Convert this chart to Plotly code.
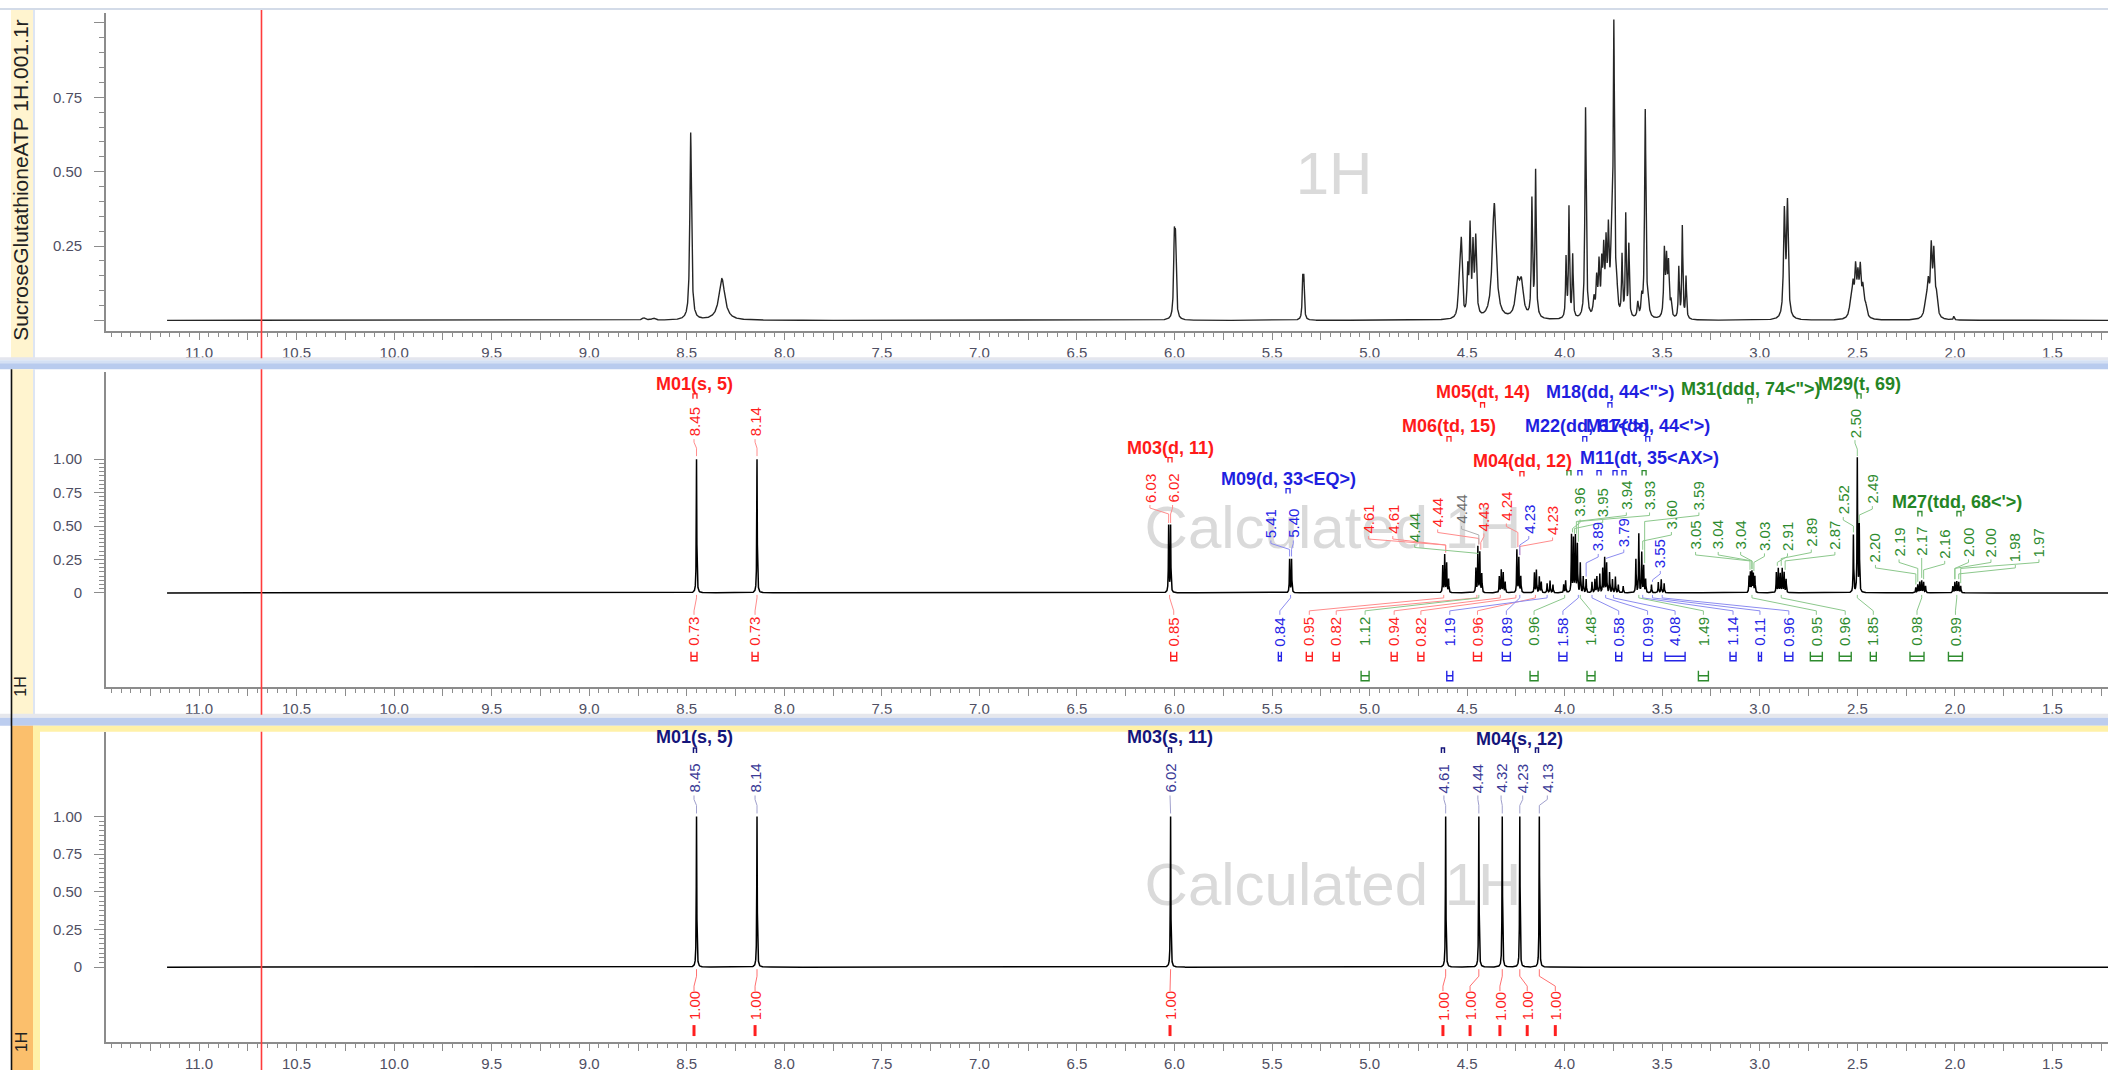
import numpy as np
import plotly.graph_objects as go

W, H = 2108, 1072
FONT = "Liberation Sans, Arial, Helvetica, sans-serif"

# ---------------------------------------------------------------------------
# Measured 1H spectrum, as a line list: shift (ppm), height, half width (ppm)
# ---------------------------------------------------------------------------
exp_shift = [8.72, 8.67, 8.48, 8.32,
             6.001, 5.995, 5.343, 5.337,
             4.540, 4.530, 4.497, 4.485, 4.470, 4.456,
             4.361, 4.242, 4.222, 4.168, 4.149,
             3.993, 3.978, 3.959, 3.893,
             3.850, 3.836, 3.824, 3.810, 3.800, 3.788, 3.776, 3.760, 3.748, 3.734,
             3.706, 3.687, 3.671,
             3.625, 3.605, 3.587, 3.572,
             3.489, 3.478, 3.468, 3.455,
             3.415, 3.397, 3.378,
             2.874, 2.858,
             2.535, 2.522, 2.509, 2.497, 2.485, 2.472, 2.458,
             2.148, 2.136, 2.121, 2.108, 2.095, 2.005]
exp_height = [0.008, 0.007, 0.63, 0.14,
              0.24, 0.23, 0.13, 0.13,
              0.12, 0.24, 0.15, 0.29, 0.22, 0.26,
              0.39, 0.11, 0.11, 0.39, 0.49,
              0.20, 0.37, 0.21, 0.71,
              0.06, 0.12, 0.17, 0.16, 0.20, 0.22, 0.26, 0.20, 0.95, 0.10,
              0.20, 0.34, 0.24,
              0.05, 0.06, 0.70, 0.06,
              0.22, 0.18, 0.17, 0.05,
              0.17, 0.31, 0.14,
              0.35, 0.38,
              0.04, 0.10, 0.15, 0.12, 0.15, 0.09, 0.04,
              0.06, 0.10, 0.22, 0.20, 0.07, 0.012]
exp_hwhm = [0.010, 0.010, 0.005, 0.018,
            0.004, 0.004, 0.003, 0.003,
            0.006, 0.005, 0.004, 0.004, 0.004, 0.005,
            0.012, 0.012, 0.012, 0.0035, 0.0035,
            0.003, 0.003, 0.003, 0.004,
            0.005, 0.004, 0.004, 0.004, 0.004, 0.004, 0.004, 0.006, 0.004, 0.004,
            0.003, 0.003, 0.003,
            0.004, 0.004, 0.004, 0.004,
            0.004, 0.004, 0.004, 0.004,
            0.003, 0.003, 0.003,
            0.005, 0.005,
            0.008, 0.006, 0.005, 0.005, 0.005, 0.006, 0.008,
            0.008, 0.006, 0.005, 0.005, 0.007, 0.003]

# ---------------------------------------------------------------------------
# Calculated 1H spectrum (multiplets): line shift (ppm) and height
# ---------------------------------------------------------------------------
calc_shift = [8.45, 8.14, 6.03, 6.02, 5.41, 5.40,
              4.625, 4.615, 4.605, 4.595,
              4.455, 4.445, 4.435, 4.425,
              4.335, 4.325, 4.315, 4.305,
              4.245, 4.235, 4.225,
              4.155, 4.145, 4.130, 4.120,
              4.090, 4.075, 4.060,
              4.005, 3.995,
              3.965, 3.955, 3.945, 3.935, 3.920, 3.905, 3.890,
              3.860, 3.845, 3.835, 3.820, 3.805, 3.795, 3.785, 3.770, 3.755, 3.740, 3.725, 3.700,
              3.635, 3.620, 3.605, 3.595, 3.585, 3.555,
              3.520, 3.505, 3.490,
              3.055, 3.048, 3.040, 3.033, 3.025,
              2.915, 2.905, 2.895, 2.885, 2.875, 2.865,
              2.52, 2.50, 2.49,
              2.20, 2.19, 2.18, 2.17, 2.16, 2.15,
              2.01, 2.00, 1.99, 1.98, 1.97]
calc_height = [1.00, 1.00, 0.50, 0.50, 0.25, 0.25,
               0.20, 0.28, 0.22, 0.10,
               0.18, 0.34, 0.30, 0.14,
               0.12, 0.17, 0.15, 0.08,
               0.32, 0.26, 0.12,
               0.15, 0.17, 0.12, 0.08,
               0.07, 0.09, 0.06,
               0.06, 0.09,
               0.43, 0.40, 0.42, 0.36, 0.22, 0.12, 0.10,
               0.08, 0.10, 0.12, 0.14, 0.18, 0.26, 0.22, 0.15, 0.10, 0.12, 0.06, 0.05,
               0.25, 0.44, 0.30, 0.20, 0.10, 0.06,
               0.08, 0.10, 0.07,
               0.12, 0.15, 0.155, 0.14, 0.12,
               0.15, 0.18, 0.14, 0.18, 0.15, 0.10,
               0.43, 1.00, 0.50,
               0.04, 0.06, 0.08, 0.09, 0.08, 0.05,
               0.05, 0.08, 0.085, 0.08, 0.05]
CALC_HWHM = 0.0015

# Calculated singlets (lower trace)
sing_shift = [8.45, 8.14, 6.02, 4.61, 4.44, 4.32, 4.23, 4.13]
sing_height = [1.00, 1.00, 1.00, 1.00, 1.00, 1.00, 1.00, 1.00]

# Peak-pick labels on the multiplet trace (text, colour class)
mid_peak_text = ["8.45", "8.14", "6.03", "6.02", "5.41", "5.40",
                 "4.61", "4.61", "4.44", "4.44", "4.44", "4.43", "4.24", "4.23", "4.23",
                 "3.96", "3.89", "3.95", "3.79", "3.94", "3.93", "3.55", "3.60",
                 "3.05", "3.59", "3.04", "3.04", "3.03", "2.91", "2.89", "2.87",
                 "2.52", "2.50", "2.49", "2.20", "2.19", "2.17", "2.16",
                 "2.00", "2.00", "1.98", "1.97"]
mid_peak_cls = ["r", "r", "r", "r", "b", "b",
                "r", "r", "g", "r", "k", "r", "r", "b", "r",
                "g", "b", "g", "b", "g", "g", "b", "g",
                "g", "g", "g", "g", "g", "g", "g", "g",
                "g", "g", "g", "g", "g", "g", "g",
                "g", "g", "g", "g"]

# Integrals on the multiplet trace: value, colour class, shift of the region
mid_int_text = ["0.73", "0.73", "0.85", "0.84", "0.95", "0.82", "1.12", "0.94", "0.82",
                "1.19", "0.96", "0.89", "0.96", "1.58", "1.48", "0.58", "0.99", "4.08",
                "1.49", "1.14", "0.11", "0.96", "0.95", "0.96", "1.85", "0.98", "0.99"]
mid_int_cls = ["r", "r", "r", "b", "r", "r", "g", "r", "r",
               "b", "r", "b", "g", "b", "g", "b", "b", "b",
               "g", "b", "b", "b", "g", "g", "g", "g", "g"]
mid_int_shift = [8.45, 8.14, 6.025, 5.405, 4.62, 4.45, 4.44, 4.33, 4.25,
                 4.09, 4.15, 4.23, 4.00, 3.93, 3.92, 3.86, 3.79, 3.75,
                 3.62, 3.60, 3.55, 3.50, 3.04, 2.89, 2.50, 2.17, 1.99]

# Multiplet captions on the multiplet trace
mid_mult_text = ["M01(s, 5)", "M03(d, 11)", "M09(d, 33<EQ>)", "M06(td, 15)", "M05(dt, 14)",
                 "M18(dd, 44<\">)", "M31(ddd, 74<\">)", "M29(t, 69)", "M22(dd, 61<'>)",
                 "M17(dd, 44<'>)", "M04(dd, 12)", "M11(dt, 35<AX>)", "M27(tdd, 68<'>)"]
mid_mult_cls = ["r", "r", "b", "r", "r", "b", "g", "g", "b", "b", "r", "b", "g"]

# Singlet trace labels
bot_peak_text = ["8.45", "8.14", "6.02", "4.61", "4.44", "4.32", "4.23", "4.13"]
bot_int_text = ["1.00", "1.00", "1.00", "1.00", "1.00", "1.00", "1.00", "1.00"]
bot_mult_text = ["M01(s, 5)", "M03(s, 11)", "M04(s, 12)"]

# Cursor position (ppm)
cursor_ppm = 10.68

# ---------------------------------------------------------------------------
# Label placement (ppm, intensity in the panel's own units)
# ---------------------------------------------------------------------------
mid_peak_pos = [(8.463, 1.276), (8.150, 1.276), (6.126, 0.784), (6.010, 0.784),
                (5.506, 0.519), (5.391, 0.519),
                (5.006, 0.552), (4.881, 0.552), (4.769, 0.489), (4.651, 0.601),
                (4.529, 0.627), (4.414, 0.571), (4.299, 0.646), (4.184, 0.552),
                (4.062, 0.541),
                (3.921, 0.675), (3.828, 0.418), (3.805, 0.675), (3.697, 0.451),
                (3.684, 0.728), (3.565, 0.728), (3.510, 0.291), (3.453, 0.582),
                (3.329, 0.433), (3.312, 0.728), (3.213, 0.433), (3.098, 0.433),
                (2.976, 0.422), (2.858, 0.422), (2.736, 0.451), (2.615, 0.433),
                (2.572, 0.694), (2.512, 1.269), (2.423, 0.776), (2.407, 0.336),
                (2.286, 0.377), (2.170, 0.388), (2.052, 0.366), (1.930, 0.377),
                (1.815, 0.377), (1.690, 0.336), (1.569, 0.377)]
mid_int_x = [8.463, 8.150, 6.004, 5.460, 5.309, 5.171, 5.023, 4.874, 4.737,
             4.589, 4.447, 4.299, 4.157, 4.009, 3.865, 3.723, 3.575, 3.434,
             3.289, 3.137, 2.999, 2.851, 2.710, 2.562, 2.418, 2.194, 1.997]
mid_int_row = [1, 1, 1, 1, 1, 1, 2, 1, 1,
               2, 1, 1, 2, 1, 2, 1, 1, 1,
               2, 1, 1, 1, 1, 1, 1, 1, 1]
mid_int_w = [6, 6, 6, 3, 6, 6, 8, 6, 6,
             6, 8, 8, 8, 8, 8, 6, 8, 20,
             10, 6, 3, 8, 12, 12, 6, 14, 14]
mid_mult_pos = [(8.458, 1.560), (6.023, 1.082), (5.418, 0.851), (4.592, 1.246),
                (4.421, 1.500), (3.766, 1.500), (3.045, 1.522), (2.489, 1.560),
                (3.887, 1.246), (3.575, 1.246), (4.216, 0.985), (3.565, 1.007),
                (1.990, 0.679)]
# small multiplet markers under the captions (ppm, intensity, colour class)
mid_marks = [(8.458, 1.470, "r"), (6.023, 0.993, "r"), (5.418, 0.761, "b"),
             (4.593, 1.149, "r"), (4.421, 1.403, "r"), (3.768, 1.403, "b"),
             (3.050, 1.433, "g"), (2.491, 1.470, "g"), (3.897, 1.149, "b"),
             (3.574, 1.149, "b"), (4.219, 0.888, "r"),
             (3.978, 0.896, "g"), (3.922, 0.896, "b"), (3.824, 0.896, "b"),
             (3.742, 0.896, "b"), (3.696, 0.896, "b"), (3.593, 0.896, "g"),
             (2.179, 0.590, "g"), (1.979, 0.590, "g")]

bot_peak_x = [8.463, 8.150, 6.023, 4.619, 4.445, 4.326, 4.215, 4.089]
bot_peak_v = 1.252
bot_int_x = [8.463, 8.150, 6.023, 4.624, 4.485, 4.332, 4.192, 4.048]
bot_int_v = -0.258
bot_mult_pos = [(8.458, 1.530), (6.023, 1.530), (4.234, 1.517)]
bot_marks = [8.458, 6.023, 4.624, 4.247, 4.142]

# ---------------------------------------------------------------------------
# Geometry
# ---------------------------------------------------------------------------
PPM_LEFT, PPM_RIGHT = 11.477, 1.215
PX_PER_PPM = 195.1
X_DOMAIN = [106 / W, 1.0]
PANEL = {
    "top": dict(top=13, bottom=332, zero=321, unit=298.0),
    "mid": dict(top=373, bottom=688, zero=594, unit=134.0),
    "bot": dict(top=733, bottom=1044, zero=969, unit=151.0),
}


def yrange(p):
    return [(p["zero"] - p["bottom"]) / p["unit"], (p["zero"] - p["top"]) / p["unit"]]


def ydomain(p):
    return [1 - p["bottom"] / H, 1 - p["top"] / H]


def fx(px):
    return px / W


def fy(py):
    return 1 - py / H


TEXT_COL = {"r": "#ff1f1f", "b": "#2424e6", "g": "#2e8b2e", "k": "#6e6e6e", "n": "#3a3a96"}
LINE_COL = {"r": "#ff8c8c", "b": "#8c8cf0", "g": "#8cc88c", "k": "#b0b0b0", "n": "#a0a0cc"}
MULT_COL = {"r": "#ff1a1a", "b": "#1f1fe0", "g": "#258525", "n": "#15157a"}
AXC = "#8c8c8c"
TICKFONT = dict(family=FONT, size=15, color="#4f4f63")


def esc(t):
    return t.replace("<", "&lt;").replace(">", "&gt;")


# ---------------------------------------------------------------------------
# Spectrum curves (Lorentzian line shapes from the line lists)
# ---------------------------------------------------------------------------
def shift_grid(shifts, half, step):
    parts = [np.arange(1.20, 11.165, 0.002), np.array(shifts, dtype=float)]
    for s in shifts:
        parts.append(np.arange(s - half, s + half, step))
    x = np.unique(np.round(np.concatenate(parts), 5))
    x = x[(x >= 1.20) & (x <= 11.164)]
    return x[::-1]


def lorentz(x, shifts, heights, widths):
    y = np.zeros_like(x)
    for s, h, w in zip(shifts, heights, widths):
        y += h * w * w / ((x - s) ** 2 + w * w)
    return y


x_exp = shift_grid(exp_shift, 0.06, 0.0005)
y_exp = lorentz(x_exp, exp_shift, exp_height, exp_hwhm)
x_calc = shift_grid(calc_shift, 0.012, 0.0002)
y_calc = lorentz(x_calc, calc_shift, calc_height, [CALC_HWHM] * len(calc_shift))
x_sing = shift_grid(sing_shift, 0.012, 0.0002)
y_sing = lorentz(x_sing, sing_shift, sing_height, [CALC_HWHM] * len(sing_shift))

fig = go.Figure()
fig.add_trace(go.Scatter(x=np.round(x_exp, 5), y=np.round(y_exp, 5), mode="lines",
                         line=dict(color="#262626", width=1.4), xaxis="x", yaxis="y",
                         hoverinfo="skip"))
fig.add_trace(go.Scatter(x=np.round(x_calc, 5), y=np.round(y_calc, 5), mode="lines",
                         line=dict(color="#000000", width=1.5), xaxis="x2", yaxis="y2",
                         hoverinfo="skip"))
fig.add_trace(go.Scatter(x=np.round(x_sing, 5), y=np.round(y_sing, 5), mode="lines",
                         line=dict(color="#000000", width=1.5), xaxis="x3", yaxis="y3",
                         hoverinfo="skip"))


def line_top(target, shifts, heights, tol=0.007):
    hs = [h for s, h in zip(shifts, heights) if abs(s - target) <= tol]
    return max(hs) if hs else 0.0


def add_polylines(segments, color, xa, ya, width=1.0):
    xs, ys = [], []
    for sx, sy in segments:
        xs += list(sx) + [None]
        ys += list(sy) + [None]
    fig.add_trace(go.Scatter(x=xs, y=ys, mode="lines", line=dict(color=color, width=width),
                             xaxis=xa, yaxis=ya, hoverinfo="skip"))


annotations = []


def vlabel(text, x, y, color, xa, ya, size=15):
    annotations.append(dict(text=text, x=x, y=y, xref=xa, yref=ya, showarrow=False,
                            textangle=-90, xanchor="center", yanchor="middle",
                            font=dict(family=FONT, size=size, color=color)))


def hlabel(text, x, y, color, xa, ya, size=18, bold=True):
    annotations.append(dict(text=("<b>%s</b>" % esc(text)) if bold else esc(text),
                            x=x, y=y, xref=xa, yref=ya, showarrow=False,
                            xanchor="center", yanchor="middle",
                            font=dict(family=FONT, size=size, color=color)))


# ---------------------------------------------------------------------------
# Multiplet trace annotations
# ---------------------------------------------------------------------------
pm = 1.0 / PANEL["mid"]["unit"]          # one pixel in intensity units
dpx = 1.0 / PX_PER_PPM                    # one pixel in ppm
seg = {c: [] for c in TEXT_COL}
for (t, c, (lx, lv)) in zip(mid_peak_text, mid_peak_cls, mid_peak_pos):
    vlabel(t, lx, lv, TEXT_COL[c], "x2", "y2")
    target = float(t)
    vb = lv - 15 * pm
    k1 = vb - 5 * pm
    k2 = vb - 11 * pm
    top = line_top(target, calc_shift, calc_height) + 3 * pm
    end = top if top < k2 else k2
    seg[c].append(([lx, lx, target, target], [vb - 2 * pm, k1, k2, end]))

int_seg = {c: [] for c in TEXT_COL}
brk_seg = {c: [] for c in TEXT_COL}
int_v = (PANEL["mid"]["zero"] - 633) / PANEL["mid"]["unit"]
for t, c, s, lx, row, w in zip(mid_int_text, mid_int_cls, mid_int_shift,
                               mid_int_x, mid_int_row, mid_int_w):
    vlabel(t, lx, int_v, TEXT_COL[c], "x2", "y2")
    int_seg[c].append(([s, s, lx, lx], [-2 * pm, -5 * pm, -18 * pm, -22 * pm]))
    y_top, y_bot = (653, 662) if row == 1 else (672, 682)
    vt = (PANEL["mid"]["zero"] - y_top) * pm
    vbt = (PANEL["mid"]["zero"] - y_bot) * pm
    hw = w / 2.0 * dpx
    brk_seg[c].append(([lx - hw, lx - hw, lx + hw, lx + hw], [vt, vbt, vbt, vt]))
    brk_seg[c].append(([lx - hw, lx + hw], [(vt + vbt) / 2, (vt + vbt) / 2]))

for c in TEXT_COL:
    if seg[c]:
        add_polylines(seg[c], LINE_COL[c], "x2", "y2")
    if int_seg[c]:
        add_polylines(int_seg[c], LINE_COL[c], "x2", "y2")
    if brk_seg[c]:
        add_polylines(brk_seg[c], TEXT_COL[c], "x2", "y2", width=1.4)

mark_seg = {c: [] for c in TEXT_COL}
for (mx, mv, c) in mid_marks:
    mark_seg[c].append(([mx - 2 * dpx, mx - 2 * dpx, mx + 2 * dpx, mx + 2 * dpx],
                        [mv - 2.5 * pm, mv + 2.5 * pm, mv + 2.5 * pm, mv - 2.5 * pm]))
for c in mark_seg:
    if mark_seg[c]:
        add_polylines(mark_seg[c], TEXT_COL[c], "x2", "y2", width=1.3)

for t, c, (mx, mv) in zip(mid_mult_text, mid_mult_cls, mid_mult_pos):
    hlabel(t, mx, mv, MULT_COL[c], "x2", "y2")

# ---------------------------------------------------------------------------
# Singlet trace annotations
# ---------------------------------------------------------------------------
pb = 1.0 / PANEL["bot"]["unit"]
bseg, bint, bbar = [], [], []
for t, lx, s in zip(bot_peak_text, bot_peak_x, sing_shift):
    vlabel(t, lx, bot_peak_v, TEXT_COL["n"], "x3", "y3")
    vb = bot_peak_v - 15 * pb
    h = line_top(s, sing_shift, sing_height)
    bseg.append(([lx, lx, s, s], [vb - 2 * pb, vb - 6 * pb, vb - 12 * pb, h + 3 * pb]))
for t, lx, s in zip(bot_int_text, bot_int_x, sing_shift):
    vlabel(t, lx, bot_int_v, "#ff1f1f", "x3", "y3")
    bint.append(([s, s, lx, lx], [-2 * pb, -9 * pb, -19 * pb, -24 * pb]))
    bbar.append(([lx, lx], [(969 - 1027) * pb, (969 - 1038) * pb]))
add_polylines(bseg, LINE_COL["n"], "x3", "y3")
add_polylines(bint, "#ff7070", "x3", "y3")
add_polylines(bbar, "#ff1f1f", "x3", "y3", width=3)
bmark = []
for mx in bot_marks:
    mv = (969 - 752) * pb
    bmark.append(([mx - 1.5 * dpx, mx - 1.5 * dpx, mx + 1.5 * dpx, mx + 1.5 * dpx],
                  [mv - 2.5 * pb, mv + 2.5 * pb, mv + 2.5 * pb, mv - 2.5 * pb]))
add_polylines(bmark, MULT_COL["n"], "x3", "y3", width=1.5)
for t, (mx, mv) in zip(bot_mult_text, bot_mult_pos):
    hlabel(t, mx, mv, MULT_COL["n"], "x3", "y3")

# ---------------------------------------------------------------------------
# Panel frames, strips and captions
# ---------------------------------------------------------------------------
shapes = []


def rect(x0, y0, x1, y1, color, layer="above"):
    shapes.append(dict(type="rect", xref="paper", yref="paper", x0=fx(x0), x1=fx(x1),
                       y0=fy(y1), y1=fy(y0), fillcolor=color, line=dict(width=0),
                       layer=layer))


rect(0, 8, W, 10, "#d3dbe8")
rect(11, 10, 33, 359, "#fff4cf")
rect(33, 10, 35, 359, "#dde5f3")
rect(0, 358, W, 361, "#e4e6ee")
rect(0, 361, W, 364, "#d4e0f4")
rect(0, 364, W, 370, "#b8cbee")
rect(11, 370, 33, 716, "#fff4cf")
rect(33, 370, 35, 716, "#dde5f3")
rect(0, 715, W, 719, "#e6e7ec")
rect(0, 719, W, 727, "#bccdef")
rect(33, 727, W, 733, "#fff1a8")
rect(33, 727, 40, H, "#fff1a8")
rect(11, 727, 33, H, "#fbbf6c")
shapes.append(dict(type="line", xref="paper", yref="paper", x0=fx(11.5), x1=fx(11.5),
                   y0=fy(370), y1=fy(H), line=dict(color="#111111", width=1.6)))

# cursor line in each panel
for ax, (y0, y1) in zip(["x", "x2", "x3"], [(10, 359), (370, 716), (733, H)]):
    shapes.append(dict(type="line", xref=ax, yref="paper", x0=cursor_ppm, x1=cursor_ppm,
                       y0=fy(y1), y1=fy(y0), line=dict(color="#ff3b3b", width=1.6)))

# faint panel watermarks, kept underneath the traces
for text, cx, cy in [("1H", 1334, 168), ("Calculated 1H", 1333, 522),
                     ("Calculated 1H", 1333, 880)]:
    shapes.append(dict(type="rect", xref="paper", yref="paper",
                       x0=fx(cx - 320), x1=fx(cx + 320), y0=fy(cy + 45), y1=fy(cy - 45),
                       line=dict(width=0), fillcolor="rgba(0,0,0,0)", layer="below",
                       label=dict(text=text, textposition="middle center",
                                  font=dict(family=FONT, size=60, color="#dadada"))))

# vertical captions in the left strips, bottom-aligned
for text, ybot, size in [("SucroseGlutathioneATP 1H.001.1r", 344, 21), ("1H", 700, 16),
                         ("1H", 1056, 16)]:
    annotations.append(dict(text=text, x=fx(21), y=fy(ybot), xref="paper", yref="paper",
                            showarrow=False, textangle=-90, xanchor="center",
                            yanchor="bottom", font=dict(family=FONT, size=size, color="#222222")))

# ---------------------------------------------------------------------------
# Axes
# ---------------------------------------------------------------------------
xt_vals = [round(1.25 + 0.25 * i, 2) for i in range(41)]
xt_text = [("%.1f" % v) if abs(v * 2 - round(v * 2)) < 1e-9 else "" for v in xt_vals]
x_minor = [round(1.25 + 0.05 * i, 2) for i in range(205)]
x_minor = [v for v in x_minor if abs(v * 4 - round(v * 4)) > 1e-9]


def x_axis(anchor):
    return dict(domain=X_DOMAIN, range=[PPM_LEFT, PPM_RIGHT], anchor=anchor,
                showline=True, linecolor=AXC, linewidth=1.6, showgrid=False, zeroline=False,
                tickmode="array", tickvals=xt_vals, ticktext=xt_text,
                ticks="outside", ticklen=7, tickwidth=1.3, tickcolor=AXC, tickfont=TICKFONT,
                minor=dict(tickmode="array", tickvals=x_minor, ticks="outside", ticklen=4,
                           tickwidth=1.1, tickcolor=AXC),
                fixedrange=True)


def y_axis(anchor, panel, labels, step):
    p = PANEL[panel]
    n = int(round(1.0 / step))
    minor = [round(i * step, 5) for i in range(n + 1)]
    minor = [v for v in minor if abs(v * 4 - round(v * 4)) > 1e-9]
    return dict(domain=ydomain(p), range=yrange(p), anchor=anchor,
                showline=True, linecolor=AXC, linewidth=1.6, showgrid=False, zeroline=False,
                tickmode="array", tickvals=[0, 0.25, 0.5, 0.75, 1.0], ticktext=labels,
                ticks="outside", ticklen=10, tickwidth=1.3, tickcolor=AXC, tickfont=TICKFONT,
                ticklabelstandoff=9,
                minor=dict(tickmode="array", tickvals=minor, ticks="outside", ticklen=5,
                           tickwidth=1.1, tickcolor=AXC),
                fixedrange=True)


fig.update_layout(
    width=W, height=H, margin=dict(l=0, r=0, t=0, b=0),
    paper_bgcolor="white", plot_bgcolor="rgba(0,0,0,0)", showlegend=False,
    xaxis=x_axis("y"), xaxis2=x_axis("y2"), xaxis3=x_axis("y3"),
    yaxis=y_axis("x", "top", ["", "0.25", "0.50", "0.75", ""], 0.05),
    yaxis2=y_axis("x2", "mid", ["0", "0.25", "0.50", "0.75", "1.00"], 0.03125),
    yaxis3=y_axis("x3", "bot", ["0", "0.25", "0.50", "0.75", "1.00"], 0.03125),
    shapes=shapes, annotations=annotations,
)

fig.write_html("out.html", config={"displayModeBar": False})
